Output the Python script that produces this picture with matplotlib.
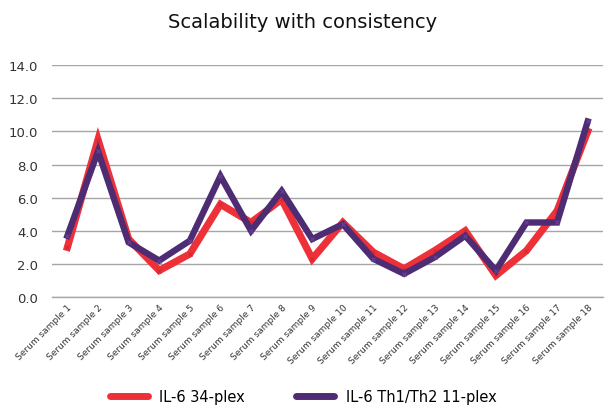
import matplotlib
matplotlib.use("Agg")
import matplotlib.pyplot as plt
from matplotlib.lines import Line2D

categories = [f"Serum sample {i}" for i in range(1, 19)]
il6_34plex = [3.0, 9.5, 3.5, 1.6, 2.6, 5.6, 4.5, 5.9, 2.3, 4.5, 2.7, 1.7, 2.8, 4.0, 1.3, 2.8, 5.2, 10.0]
il6_th1th2 = [3.7, 8.8, 3.3, 2.2, 3.4, 7.3, 4.0, 6.4, 3.5, 4.4, 2.3, 1.4, 2.4, 3.7, 1.6, 4.5, 4.5, 10.6]
series_names = ["IL-6 34-plex", "IL-6 Th1/Th2 11-plex"]
yticks = [0, 2, 4, 6, 8, 10, 12, 14]

RED = "#EE3139"
PURPLE = "#4E2C73"

fig = plt.figure(figsize=(6.06, 4.06), dpi=100)
ax = fig.add_axes([0.086, 0.266, 0.909, 0.571])

x = list(range(len(categories)))
ax.plot(x, il6_34plex, color=RED, lw=5.2, solid_joinstyle="miter", marker="x",
        ms=3.5, mew=0.8, mec="#D9262E", zorder=3)
ax.plot(x, il6_th1th2, color=PURPLE, lw=4.6, solid_joinstyle="miter", marker="x",
        ms=3.5, mew=0.8, mec="#6A3F99", zorder=4)

ax.set_xlim(-0.5, len(categories) - 0.5)
ax.set_ylim(0, 14)
ax.set_yticks(yticks)
ax.set_yticklabels([f"{v:.1f}" for v in yticks], fontsize=9.5, color="#333333")
ax.set_xticks(x)
ax.set_xticklabels(categories, rotation=45, ha="right", rotation_mode="anchor",
                   fontsize=6.5, color="#333333")
ax.tick_params(axis="both", length=0, pad=4)
ax.tick_params(axis="y", pad=10)
ax.grid(axis="y", color="#A6A6A6", lw=1)
ax.set_axisbelow(True)
for s in ["left", "right", "top"]:
    ax.spines[s].set_visible(False)
ax.spines["bottom"].set_color("#A6A6A6")
ax.spines["bottom"].set_linewidth(1)

fig.text(0.5, 0.945, "Scalability with consistency", ha="center", va="center",
         fontsize=14, color="#111111")

handles = [Line2D([0], [0], color=RED, lw=5, solid_capstyle="round"),
           Line2D([0], [0], color=PURPLE, lw=5, solid_capstyle="round")]
fig.legend(handles, series_names, loc="center", bbox_to_anchor=(0.5, 0.02),
           ncol=2, frameon=False, fontsize=10.5, handlelength=2.6,
           columnspacing=3.5, handletextpad=0.8)

fig.savefig("out.png", dpi=100)
